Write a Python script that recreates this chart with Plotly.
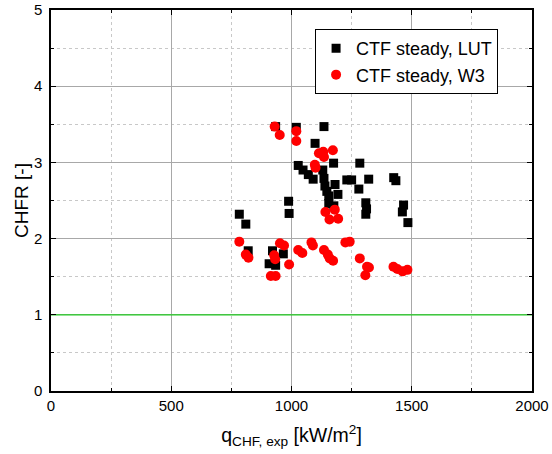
import plotly.graph_objects as go

# CTF steady, LUT (black squares)
lut_q = [783, 810, 820, 921, 966, 907, 934, 988, 990, 934, 1020, 1135, 1098, 1028, 1048,
         1070, 1090, 1130, 1135, 1139, 1147, 1175, 1181, 1155, 1193, 1155, 1176, 1230, 1250,
         1284, 1280, 1321, 1309, 1312, 1309, 1425, 1434, 1466, 1461, 1484]
lut_chfr = [2.32, 2.19, 1.84, 1.84, 1.80, 1.67, 1.65, 2.49, 2.33, 3.47, 3.46, 3.47, 3.25, 2.96, 2.90,
            2.84, 2.78, 2.90, 2.79, 2.69, 2.62, 2.99, 2.71, 2.56, 2.58, 2.46, 2.43, 2.77, 2.77,
            2.99, 2.65, 2.78, 2.47, 2.39, 2.32, 2.80, 2.76, 2.44, 2.35, 2.21]

# CTF steady, W3 (red circles)
w3_q = [930, 951, 1020, 1020, 1114, 1132, 1135, 1172, 1097, 1100, 1141, 1180, 1158, 1194,
        783, 810, 821, 952, 969, 928, 932, 990, 914, 934, 1028, 1045, 1083, 1089, 1135, 1151,
        1159, 1173, 1224, 1242, 1284, 1314, 1307, 1322, 1424, 1440, 1462, 1482]
w3_chfr = [3.47, 3.36, 3.41, 3.28, 3.12, 3.14, 3.07, 3.16, 2.97, 2.93, 2.35, 2.38, 2.25, 2.26,
           1.96, 1.79, 1.75, 1.94, 1.91, 1.78, 1.73, 1.66, 1.51, 1.51, 1.85, 1.81, 1.95, 1.91, 1.85, 1.79,
           1.74, 1.71, 1.95, 1.96, 1.74, 1.63, 1.52, 1.62, 1.63, 1.60, 1.57, 1.59]

chfr_limit = 1.0
x_range = [0, 2000]
y_range = [0, 5]

FONT = "Liberation Sans, Arial, sans-serif"

fig = go.Figure()
fig.add_trace(go.Scatter(x=x_range, y=[chfr_limit, chfr_limit], mode="lines",
                         line=dict(color="#22cc22", width=1.2), showlegend=False, hoverinfo="skip"))
fig.add_trace(go.Scatter(x=lut_q, y=lut_chfr, mode="markers", name="CTF steady, LUT",
                         marker=dict(symbol="square", size=9, color="black", line=dict(width=0))))
fig.add_trace(go.Scatter(x=w3_q, y=w3_chfr, mode="markers", name="CTF steady, W3",
                         marker=dict(symbol="circle", size=10, color="#ff0000", line=dict(width=0))))

axis_common = dict(
    showline=True, linecolor="black", linewidth=1.5, mirror="ticks",
    ticks="inside", ticklen=5, tickwidth=1.2, tickcolor="black",
    showgrid=True, gridcolor="#a8a8a8", gridwidth=1.2,
    zeroline=False, automargin=False, ticklabeloverflow="allow",
    tickfont=dict(family=FONT, size=15, color="black"),
)

fig.update_xaxes(range=x_range, dtick=500, tick0=0,
                 minor=dict(dtick=250, showgrid=True, gridcolor="#c8c8c8", griddash="dot",
                            ticks="inside", ticklen=3, tickcolor="black"),
                 title=dict(text="q<sub>CHF, exp</sub> [kW/m<sup>2</sup>]",
                            font=dict(family=FONT, size=19.5, color="black"), standoff=16),
                 **axis_common)
fig.update_yaxes(range=y_range, dtick=1, tick0=0, ticklabelstandoff=4,
                 minor=dict(dtick=0.5, showgrid=True, gridcolor="#c8c8c8", griddash="dot",
                            ticks="inside", ticklen=3, tickcolor="black"),
                 title=dict(text="CHFR [-]", font=dict(family=FONT, size=19, color="black"), standoff=0),
                 **axis_common)

fig.update_layout(
    width=552, height=454,
    margin=dict(l=51, r=20, t=10, b=63),
    paper_bgcolor="white", plot_bgcolor="white",
    font=dict(family=FONT, color="black"),
    legend=dict(x=0.549, y=0.95, xanchor="left", yanchor="top",
                bordercolor="black", borderwidth=1, bgcolor="white",
                font=dict(family=FONT, size=18, color="black"),
                tracegroupgap=0),
    showlegend=True,
)

fig.write_html("out.html", config={"displayModeBar": False},
               post_script="document.body.style.margin='0';")
